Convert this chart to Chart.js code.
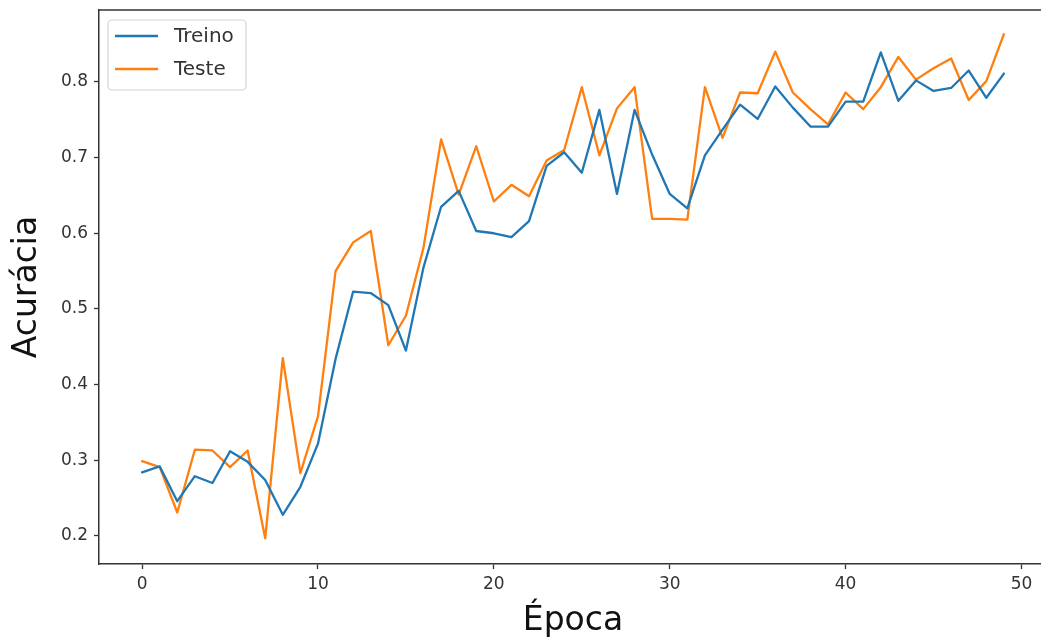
<!DOCTYPE html>
<html>
<head>
<meta charset="utf-8">
<script src="https://cdn.jsdelivr.net/npm/chart.js@4"></script>
<style>
  html, body { margin: 0; padding: 0; background: #fff; overflow: hidden; }
  #wrap { position: relative; width: 1050px; height: 641px; }
</style>
</head>
<body>
<div id="wrap"><canvas id="c"></canvas></div>
<script>
// Epochs 0..49
const epocas = Array.from({ length: 50 }, (_, i) => i);

// Accuracy per epoch on the training set
const treino = [
  0.284, 0.292, 0.246, 0.279, 0.270, 0.312, 0.298, 0.274, 0.228, 0.265,
  0.322, 0.434, 0.523, 0.521, 0.505, 0.445, 0.555, 0.635, 0.656, 0.603,
  0.600, 0.595, 0.616, 0.689, 0.707, 0.680, 0.763, 0.652, 0.763, 0.704,
  0.652, 0.633, 0.703, 0.737, 0.770, 0.751, 0.794, 0.766, 0.741, 0.741,
  0.774, 0.774, 0.839, 0.775, 0.802, 0.788, 0.792, 0.815, 0.779, 0.811
];

// Accuracy per epoch on the test set
const teste = [
  0.299, 0.291, 0.231, 0.314, 0.313, 0.291, 0.313, 0.197, 0.435, 0.283,
  0.358, 0.550, 0.588, 0.603, 0.452, 0.491, 0.581, 0.724, 0.651, 0.715,
  0.642, 0.664, 0.649, 0.696, 0.710, 0.793, 0.703, 0.765, 0.793, 0.619,
  0.619, 0.618, 0.793, 0.726, 0.786, 0.785, 0.840, 0.786, 0.764, 0.744,
  0.786, 0.764, 0.793, 0.833, 0.803, 0.818, 0.831, 0.776, 0.801, 0.863
];

const xTicks = [0, 10, 20, 30, 40, 50];
const yTicks = [0.2, 0.3, 0.4, 0.5, 0.6, 0.7, 0.8];

const INK = '#333333';
const FONT = '"DejaVu Sans", sans-serif';

// Keep the plot frame exactly where the layout padding puts it
function noScalePadding(s) {
  s.paddingTop = 0; s.paddingBottom = 0; s.paddingLeft = 0; s.paddingRight = 0;
}

// Top spine (matplotlib-style frame) and in-axes legend box
const framePlugin = {
  id: 'frame',
  afterDatasetsDraw(chart) {
    const { ctx, chartArea } = chart;
    ctx.save();
    ctx.strokeStyle = INK;
    ctx.lineWidth = 1.5;
    ctx.beginPath();
    ctx.moveTo(chartArea.left, chartArea.top);
    ctx.lineTo(chartArea.right, chartArea.top);
    ctx.stroke();
    ctx.restore();
  },
  afterDraw(chart) {
    const { ctx, chartArea } = chart;
    const x0 = chartArea.left + 9, y0 = chartArea.top + 10;
    const w = 138, h = 70, r = 4;
    ctx.save();
    ctx.fillStyle = 'rgba(255,255,255,0.85)';
    ctx.strokeStyle = '#d4d4d4';
    ctx.lineWidth = 1.2;
    ctx.beginPath();
    ctx.roundRect(x0, y0, w, h, r);
    ctx.fill();
    ctx.stroke();
    ctx.font = '20px ' + FONT;
    ctx.textBaseline = 'middle';
    chart.data.datasets.forEach((ds, i) => {
      const yy = y0 + 16 + i * 33;
      ctx.strokeStyle = ds.borderColor;
      ctx.lineWidth = 2.4;
      ctx.beginPath();
      ctx.moveTo(x0 + 7, yy);
      ctx.lineTo(x0 + 50, yy);
      ctx.stroke();
      ctx.fillStyle = INK;
      ctx.fillText(ds.label, x0 + 66, yy + 1);
    });
    ctx.restore();
  }
};

new Chart(document.getElementById('c'), {
  type: 'line',
  data: {
    labels: epocas,
    datasets: [
      { label: 'Treino', data: treino, borderColor: '#1f77b4', backgroundColor: '#1f77b4' },
      { label: 'Teste',  data: teste,  borderColor: '#ff7f0e', backgroundColor: '#ff7f0e' }
    ]
  },
  options: {
    responsive: true,
    maintainAspectRatio: false,
    animation: false,
    elements: {
      point: { radius: 0, hoverRadius: 0 },
      line: { borderWidth: 2.3, tension: 0, borderJoinStyle: 'round', borderCapStyle: 'round' }
    },
    layout: { padding: { left: 0, top: 10, right: 3, bottom: 0 } },
    plugins: { legend: { display: false }, tooltip: { enabled: false } },
    scales: {
      x: {
        type: 'linear',
        min: -2.45,
        max: 51.45,
        afterBuildTicks: s => { s.ticks = xTicks.map(v => ({ value: v })); },
        afterFit: s => { s.height = 77; noScalePadding(s); },
        grid: { drawOnChartArea: false, drawTicks: true, tickLength: 5, tickWidth: 1.3, tickColor: INK },
        border: { display: true, color: INK, width: 1.5 },
        ticks: { color: INK, font: { family: FONT, size: 17 }, padding: 5, maxRotation: 0, autoSkip: false },
        title: { display: true, text: 'Época', color: '#111', font: { family: FONT, size: 33 }, padding: { top: 4, bottom: 0 } }
      },
      y: {
        type: 'linear',
        min: 0.163,
        max: 0.895,
        afterBuildTicks: s => { s.ticks = yTicks.map(v => ({ value: v })); },
        afterFit: s => { s.width = 99; noScalePadding(s); },
        grid: { drawOnChartArea: false, drawTicks: true, tickLength: 5, tickWidth: 1.3, tickColor: INK },
        border: { display: true, color: INK, width: 1.5 },
        ticks: { color: INK, font: { family: FONT, size: 17 }, padding: 6, callback: v => v.toFixed(1) },
        title: { display: true, text: 'Acurácia', color: '#111', font: { family: FONT, size: 33 }, padding: { top: 8, bottom: 0 } }
      }
    }
  },
  plugins: [framePlugin]
});
</script>
</body>
</html>
